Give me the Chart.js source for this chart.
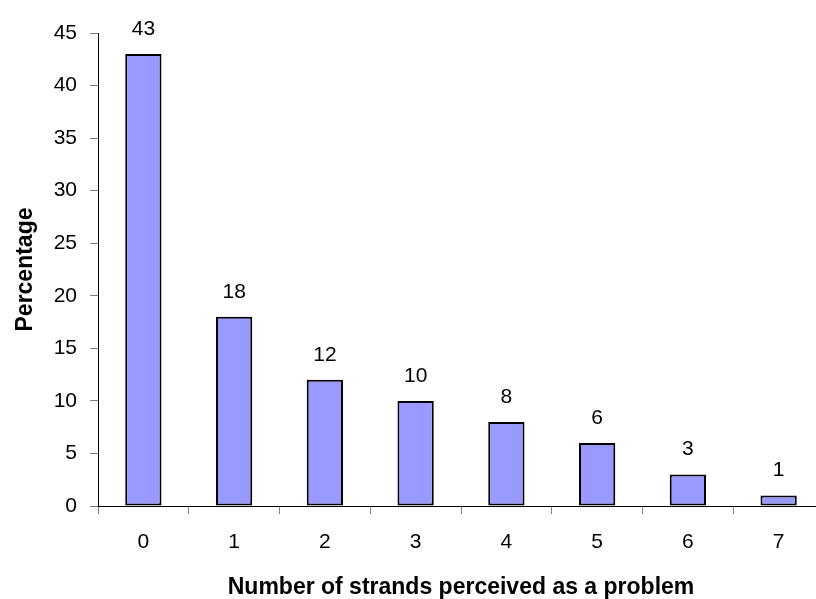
<!DOCTYPE html>
<html>
<head>
<meta charset="utf-8">
<script src="https://cdn.jsdelivr.net/npm/chart.js@4/dist/chart.umd.min.js"></script>
<style>
  html, body { margin: 0; padding: 0; background: #fff; overflow: hidden; }
  #wrap { width: 824px; height: 599px; }
</style>
</head>
<body>
<div id="wrap"><canvas id="c" width="824" height="599"></canvas></div>
<script>
// Share of respondents by how many strands they saw as a problem
const strandCounts = ['0', '1', '2', '3', '4', '5', '6', '7'];
const percentages = [43, 18, 12, 10, 8, 6, 3, 1];
const yTicks = [0, 5, 10, 15, 20, 25, 30, 35, 40, 45];

const FONT = "'Liberation Sans', Arial, sans-serif";

// Writes each bar's value just above it
const valueLabels = {
  id: 'valueLabels',
  afterDatasetsDraw(chart) {
    const ctx = chart.ctx;
    const meta = chart.getDatasetMeta(0);
    ctx.save();
    ctx.font = `21px ${FONT}`;
    ctx.fillStyle = '#000';
    ctx.textAlign = 'center';
    ctx.textBaseline = 'alphabetic';
    meta.data.forEach((bar, i) => {
      ctx.fillText(String(percentages[i]), bar.x, bar.y - 19);
    });
    ctx.restore();
  }
};

new Chart(document.getElementById('c'), {
  type: 'bar',
  data: {
    labels: strandCounts,
    datasets: [{
      data: percentages,
      backgroundColor: '#9999FF',
      borderColor: '#000000',
      borderWidth: 2,
      borderSkipped: false,
      categoryPercentage: 1,
      barPercentage: 0.4
    }]
  },
  options: {
    responsive: false,
    animation: false,
    layout: { padding: { top: 33, right: 0, left: 0, bottom: 0 } },
    plugins: {
      legend: { display: false },
      tooltip: { enabled: false }
    },
    scales: {
      x: {
        offset: true,
        grid: {
          display: true,
          drawOnChartArea: false,
          drawTicks: true,
          tickLength: 8,
          color: '#808080',
          offset: true
        },
        border: { display: true, color: '#000', width: 1 },
        ticks: {
          color: '#000',
          font: { family: FONT, size: 21 },
          padding: 16,
          maxRotation: 0
        },
        title: {
          display: true,
          text: 'Number of strands perceived as a problem',
          color: '#000',
          font: { family: FONT, size: 23, weight: 'bold', lineHeight: 1 },
          padding: { top: 0, bottom: 0 }
        },
        afterFit(scale) { scale.height = 93; }
      },
      y: {
        min: 0,
        max: 45,
        afterBuildTicks(scale) { scale.ticks = yTicks.map(v => ({ value: v })); },
        grid: {
          display: true,
          drawOnChartArea: false,
          drawTicks: true,
          tickLength: 8,
          color: '#808080'
        },
        border: { display: true, color: '#000', width: 1 },
        ticks: {
          color: '#000',
          font: { family: FONT, size: 21 },
          padding: 13
        },
        title: {
          display: true,
          text: 'Percentage',
          color: '#000',
          font: { family: FONT, size: 23, weight: 'bold', lineHeight: 1 },
          padding: { top: 14, bottom: 0 }
        },
        afterFit(scale) { scale.width = 98; }
      }
    }
  },
  plugins: [valueLabels]
});
</script>
</body>
</html>
